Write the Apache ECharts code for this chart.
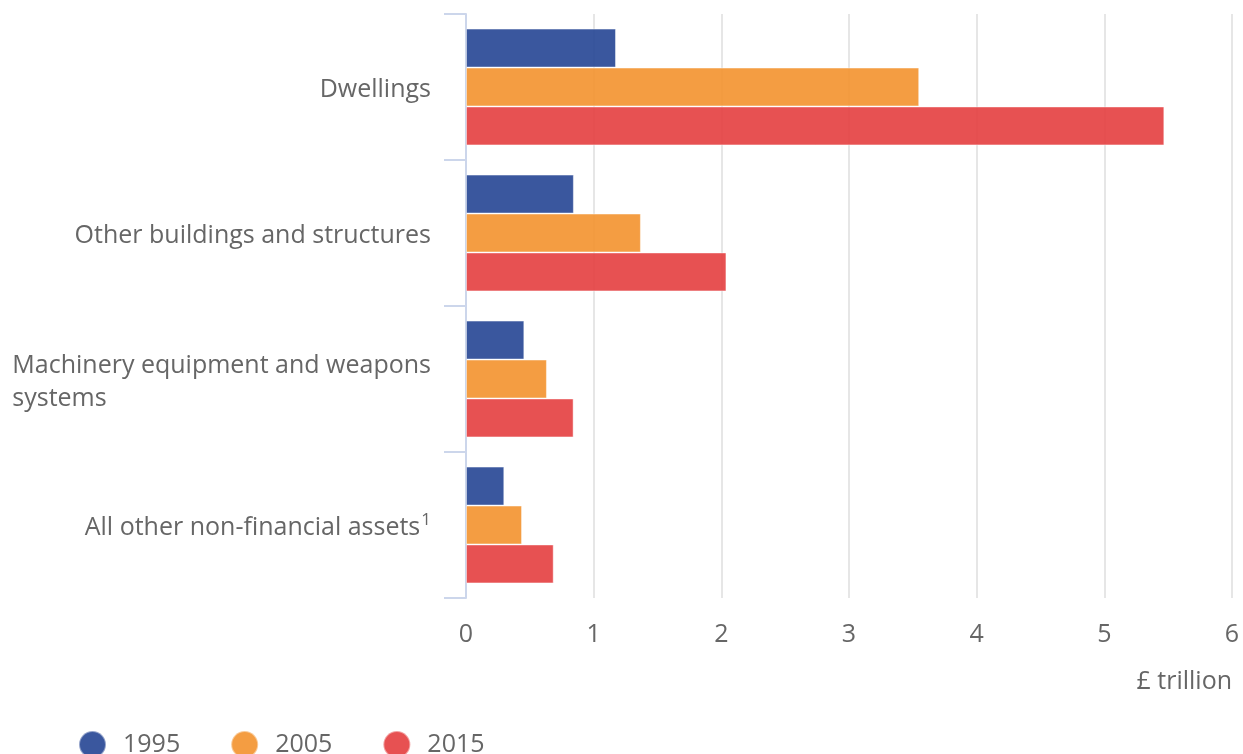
<!DOCTYPE html>
<html>
<head>
<meta charset="utf-8">
<script src="https://cdn.jsdelivr.net/npm/echarts@6/dist/echarts.min.js"></script>
<style>
html,body{margin:0;padding:0;background:#fff;}
#main{width:1243px;height:754px;}
</style>
</head>
<body>
<div id="main"></div>
<script>
const categories = ['Dwellings', 'Other buildings and structures', 'Machinery equipment and weapons systems', 'All other non-financial assets'];
const seriesNames = ['1995', '2005', '2015'];
const values1995 = [1.175, 0.845, 0.457, 0.30];
const values2005 = [3.55, 1.37, 0.634, 0.439];
const values2015 = [5.47, 2.04, 0.843, 0.687];
const xTicks = [0, 1, 2, 3, 4, 5, 6];
const unitLabel = '£ trillion';

const colors = ['#254594', '#F3922E', '#E43E3F'];
const allValues = [values1995, values2005, values2015];

const chart = echarts.init(document.getElementById('main'));
const fontFamily = '"Open Sans", "Noto Sans", sans-serif';
const fs = 25;

chart.setOption({
  animation: false,
  color: colors,
  textStyle: { fontFamily: fontFamily },
  title: {
    text: unitLabel,
    right: 6,
    top: 664,
    textStyle: { fontFamily: fontFamily, fontSize: fs, fontWeight: 'normal', color: '#666666' }
  },
  legend: {
    data: seriesNames,
    left: 73,
    top: 725,
    icon: 'circle',
    itemWidth: 27,
    itemHeight: 27,
    itemGap: 50,
    textStyle: { fontFamily: fontFamily, fontSize: fs, color: '#666666', padding: [0, 0, 0, 12] }
  },
  grid: { left: 466, right: 11, top: 14, bottom: 156, containLabel: false },
  xAxis: {
    type: 'value',
    min: xTicks[0],
    max: xTicks[xTicks.length - 1],
    interval: 1,
    axisLine: { show: false },
    axisTick: { show: false },
    axisLabel: { fontFamily: fontFamily, fontSize: fs, color: '#666666', margin: 24 },
    splitLine: { show: true, lineStyle: { color: '#e6e6e6', width: 2 } }
  },
  yAxis: {
    type: 'category',
    data: categories,
    inverse: true,
    axisLine: { show: true, lineStyle: { color: '#ccd6eb', width: 2 } },
    axisTick: { show: true, length: 22, lineStyle: { color: '#ccd6eb', width: 2 } },
    axisLabel: {
      fontFamily: fontFamily,
      fontSize: fs,
      color: '#666666',
      margin: 35,
      padding: [6, 0, 0, 0],
      formatter: function (v) {
        if (v === 'Machinery equipment and weapons systems') {
          return '{m|Machinery equipment and weapons}\n{l|systems}';
        }
        if (v === 'All other non-financial assets') {
          return '{m|All other non-financial assets}{sup|1}';
        }
        return v;
      },
      rich: {
        m: { fontFamily: fontFamily, fontSize: fs, color: '#666666', lineHeight: 33 },
        l: { fontFamily: fontFamily, fontSize: fs, color: '#666666', align: 'left', lineHeight: 33 },
        sup: { fontFamily: fontFamily, fontSize: 17, color: '#666666', verticalAlign: 'top', padding: [0, 0, 12, 1] }
      }
    }
  },
  series: seriesNames.map(function (name, i) {
    return {
      name: name,
      type: 'bar',
      data: allValues[i],
      barGap: '0%',
      barCategoryGap: '20%',
      itemStyle: { opacity: 0.9, borderColor: 'rgba(255,255,255,0.5)', borderWidth: 1 },
      emphasis: { disabled: true }
    };
  })
});
</script>
</body>
</html>
